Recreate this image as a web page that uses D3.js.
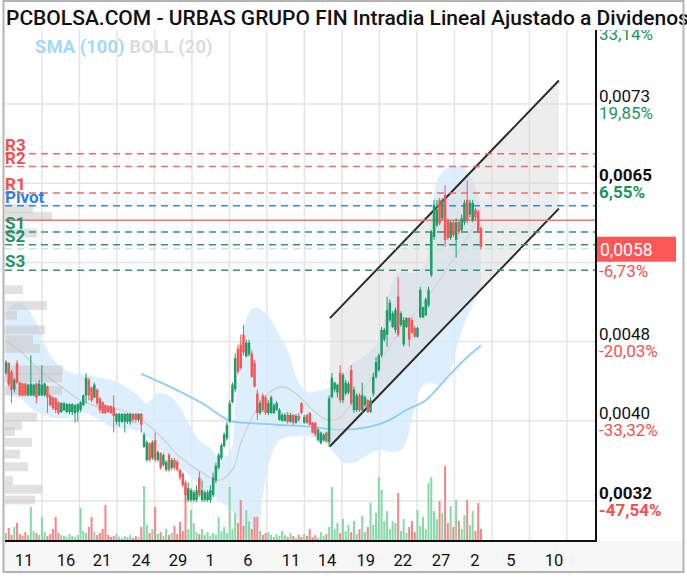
<!DOCTYPE html>
<html><head><meta charset="utf-8">
<script src="https://cdn.jsdelivr.net/npm/d3@7"></script>
<style>body{margin:0;background:#fff}svg{display:block}text{font-family:Roboto,"Noto Sans",sans-serif}</style>
</head><body><svg id="c" width="687" height="578"></svg>
<script>
// Prices are in units of 0.00001 EUR
const openP = [456,466,457,439,466,446,445,445,433,433,433,445,433,433,433,442,433,431,430,426,416,418,416,416,416,415,416,418,423,433,449,441,431,439,430,426,423,422,422,421,406,406,406,406,406,406,414,414,408,414,380,367,384,369,387,367,374,362,357,372,359,367,365,357,353,344,326,326,326,326,349,326,326,326,326,331,346,359,369,381,389,406,426,439,481,485,495,473,475,476,466,435,415,433,431,415,415,415,418,408,407,407,413,406,413,405,412,425,405,413,415,405,405,387,384,387,395,385,431,439,436,456,428,435,436,459,418,418,433,418,423,428,416,435,452,459,474,490,495,510,503,500,534,505,485,503,512,510,502,493,513,513,515,525,556,595,607,633,614,638,612,594,610,592,610,602,610,633,618,612,623,621,604];
const highP = [469,467,459,451,469,447,446,446,445,474,445,446,449,464,446,443,434,432,431,427,426,426,425,425,425,424,425,427,434,456,451,442,446,440,431,427,424,423,423,433,415,415,415,415,415,415,415,415,415,415,395,387,385,387,395,377,375,374,367,374,369,369,367,358,354,346,344,338,336,341,355,346,336,336,341,354,364,374,384,395,406,428,446,476,485,495,505,490,490,479,469,439,428,435,433,428,433,425,427,420,415,415,416,415,414,414,415,426,413,414,416,406,406,400,396,394,396,433,456,447,445,464,456,449,447,464,442,435,435,446,433,429,431,456,472,476,503,502,534,531,519,523,554,519,513,513,513,512,504,503,544,524,533,544,602,633,633,635,635,648,614,612,612,614,612,618,633,653,633,633,625,623,606];
const lowP = [454,442,425,436,444,432,432,432,432,432,432,425,432,432,432,415,422,418,415,413,415,417,415,414,413,405,406,416,422,425,428,426,430,423,415,414,414,415,414,395,403,401,405,395,404,403,405,405,406,395,380,365,365,367,365,365,357,360,355,355,357,357,355,346,339,324,324,324,324,324,329,324,324,324,323,329,343,357,367,380,387,405,425,436,454,459,474,472,473,451,441,408,413,416,413,413,414,414,417,407,406,406,404,405,403,404,406,414,404,404,402,394,391,386,383,386,385,380,430,436,431,425,425,433,434,423,415,416,416,415,421,415,415,432,450,457,472,488,483,508,502,497,493,503,483,502,483,496,492,492,512,512,514,523,554,592,605,607,612,585,592,592,595,574,598,600,607,609,615,610,612,599,582];
const closeP = [467,444,439,449,446,433,433,433,444,445,444,431,445,444,445,431,423,420,418,415,425,425,424,424,424,423,424,426,433,451,433,428,444,425,418,415,415,416,415,412,414,414,414,414,414,414,408,408,414,403,393,385,367,385,367,375,359,372,365,357,367,359,357,349,341,331,338,336,334,336,331,336,334,334,336,349,361,372,382,393,403,425,444,471,457,461,477,487,487,452,442,415,425,418,415,425,431,423,425,418,413,413,406,413,405,412,408,415,411,405,403,395,393,398,395,393,386,430,451,446,444,428,454,446,445,425,439,433,418,433,431,416,428,452,467,474,500,500,520,528,517,520,495,517,510,512,490,497,493,502,541,523,531,541,600,628,623,609,633,592,594,610,597,610,600,614,630,612,630,630,615,600,585];
const volume = [8,13,6,14,18,7,5,9,6,34,10,8,6,24,9,5,7,12,24,8,6,5,4,7,5,4,6,33,10,8,14,24,9,6,8,12,36,6,4,5,7,4,3,5,4,6,3,5,4,14,55,16,8,12,34,7,9,5,12,6,8,15,7,19,10,54,12,31,18,9,7,12,6,9,5,8,6,24,10,14,8,54,12,28,18,41,15,31,20,12,24,24,10,6,8,9,6,4,7,5,10,6,4,8,5,3,6,4,7,5,12,4,6,3,9,5,7,14,54,12,18,8,22,10,16,9,20,7,12,25,9,14,38,16,28,64,51,20,30,12,20,18,48,10,22,8,14,20,9,31,15,24,12,58,64,30,22,40,28,75,18,35,14,41,20,12,26,41,16,30,10,38,12];

// Bollinger (20): [bar index, price]
const bollUpper = [[0,520],[5,528],[11,508],[14,485],[18,467],[23,457],[29,454],[34,451],[40,447],[47,435],[51,425],[55,435],[59,433],[63,421],[66,405],[70,387],[74,379],[77,370],[81,374],[83,425],[85,462],[87,512],[90,523],[94,517],[98,500],[103,472],[105,452],[108,439],[110,436],[115,439],[121,446],[124,462],[130,474],[135,490],[139,541],[142,558],[149,559],[152,569],[154,623],[157,658],[161,667],[165,667],[169,653],[172,623]];
const bollLower = [[0,433],[5,430],[10,418],[16,411],[22,410],[28,415],[34,408],[38,401],[45,398],[49,395],[56,377],[63,360],[71,339],[77,326],[83,311],[87,286],[91,296],[93,331],[95,362],[99,387],[103,391],[110,391],[114,387],[118,377],[122,365],[126,364],[131,372],[135,377],[141,375],[144,380],[147,408],[150,439],[153,446],[157,444],[161,459],[164,490],[168,520],[172,541]];
const bollMid = [[0,488],[5,479],[12,459],[20,442],[27,428],[34,421],[42,418],[49,408],[56,391],[63,370],[71,354],[77,346],[82,357],[85,384],[90,415],[95,435],[100,442],[105,435],[110,421],[116,408],[121,410],[125,425],[132,449],[138,479],[145,507],[152,531],[160,564],[165,585],[170,609]];
const sma100 = [[49,455],[60,441],[71,425],[81,407],[87,405],[98,403],[110,401],[121,398],[132,401],[139,408],[145,418],[152,428],[160,452],[167,472],[172,484]];

// Regression channel: [start index, end index], upper/lower prices
const channelIdx = [117.3, 200.2];
const channelUpper = [512, 755];
const channelLower = [381, 624];

// Pivot levels
const pivotNames = ["R3","R2","R1","Pivot","S1","S2","S3"];
const pivotValues = [680,667,640,627,600,587,561];
const lastClose = 612;
const currentPrice = 583;
const currentPriceLabel = "0,0058";

// Volume at price profile: [price, volume]
const profile = [[624,28],[616,47],[599,32],[541,18],[525,42],[515,12],[500,40],[490,28],[481,35],[459,58],[451,57],[438,57],[411,32],[402,17],[396,10],[385,27],[373,15],[360,23],[346,8],[337,37],[326,30]];

// Axes
const yTickValues = [325,407,488,569,650,731,812];
const yTickLabels = ["0,0032","0,0040","0,0048","0,0056","0,0065","0,0073","0,0081"];
const yTickPct = ["-47,54%","-33,32%","-20,03%","-6,73%","6,55%","19,85%","33,14%"];
const yTickBold = [true,false,false,false,true,false,false];
const xTickIdx = [6.5,21.7,34.8,48.9,62.3,73.9,87.6,103.2,116.2,130.3,143.7,157.5,169.8,182.8,198.4];
const xTickLabels = ["11","16","21","24","29","1","6","11","14","19","22","27","2","5","10"];
const xGridIdx = d3.range(13.0, 215, 13.58);

const title = "PCBOLSA.COM - URBAS GRUPO FIN Intradia Lineal Ajustado a Dividenos";

const U = 1e-5;
const svg = d3.select("#c");
const L = 5, R = 596, T = 30, B = 541;
const x = d3.scaleLinear().domain([0,172]).range([6,481]);
const y = d3.scaleLinear().domain([325*U, 731*U]).range([501,104]);
const yv = d3.scaleLinear().domain([0,86]).range([B, 455]);
const prof = d3.scaleLinear().domain([0,100]).range([0,100]);

const GREEN = "#1f9d66", RED = "#f25757";

svg.append("rect").attr("x",0).attr("y",0).attr("width",687).attr("height",578).attr("fill","#fff");
svg.append("rect").attr("x",4).attr("y",B).attr("width",679).attr("height",31).attr("fill","#f7f7f7");

const defs = svg.append("defs");
defs.append("clipPath").attr("id","clip").append("rect")
  .attr("x",L).attr("y",T).attr("width",R-L).attr("height",B-T);
defs.append("clipPath").attr("id","clipR").append("rect").attr("x",597).attr("y",T).attr("width",90).attr("height",B-T);
const g = svg.append("g").attr("clip-path","url(#clip)");

// grid
g.selectAll(".vg").data(xGridIdx).join("line")
  .attr("x1",d=>x(d)).attr("x2",d=>x(d)).attr("y1",T).attr("y2",B)
  .attr("stroke","#e4e4e4").attr("stroke-width",1.5);
g.selectAll(".hg").data(yTickValues).join("line")
  .attr("x1",L).attr("x2",R).attr("y1",d=>y(d*U)).attr("y2",d=>y(d*U))
  .attr("stroke","#e4e4e4").attr("stroke-width",1.5);

// Bollinger band
const ln = d3.line().x(d=>x(d[0])).y(d=>y(d[1]*U)).curve(d3.curveCatmullRom);
g.append("path")
  .attr("d", ln(bollUpper) + "L" + ln(bollLower.slice().reverse()).slice(1) + "Z")
  .attr("fill","#d7ebfb").attr("opacity",0.85);
g.append("path").attr("d", ln(bollMid)).attr("fill","none").attr("stroke","#cfcfcf").attr("stroke-width",1.2);

// volume profile
g.selectAll(".vp").data(profile).join("rect")
  .attr("x",L).attr("y",d=>y((d[0]+4.5)*U)).attr("height",d=>y((d[0]-4.5)*U)-y((d[0]+4.5)*U))
  .attr("width",d=>prof(d[1])).attr("fill","#c4c4c4").attr("opacity",0.5);

// SMA 100
g.append("path").attr("d", ln(sma100)).attr("fill","none").attr("stroke","#8ecdf6").attr("stroke-width",1.8);

// channel
const cx0 = x(channelIdx[0]), cx1 = x(channelIdx[1]);
g.append("path")
  .attr("d",`M${cx0},${y(channelUpper[0]*U)}L${cx1},${y(channelUpper[1]*U)}L${cx1},${y(channelLower[1]*U)}L${cx0},${y(channelLower[0]*U)}Z`)
  .attr("fill","#dcdcdc").attr("opacity",0.5);
[channelUpper, channelLower].forEach(c=>{
  g.append("line").attr("x1",cx0).attr("x2",cx1).attr("y1",y(c[0]*U)).attr("y2",y(c[1]*U))
   .attr("stroke","#2b2b2b").attr("stroke-width",2);
});

// pivot lines
const pivColor = n => n[0]==="R" ? "#f26a6a" : (n==="Pivot" ? "#3b87e6" : "#2a9a6a");
const pivText = n => n[0]==="R" ? "#f25050" : (n==="Pivot" ? "#2f7fe0" : "#22935f");
g.selectAll(".pl").data(pivotValues).join("line")
  .attr("x1",L).attr("x2",R).attr("y1",d=>y(d*U)).attr("y2",d=>y(d*U))
  .attr("stroke",(d,i)=>pivColor(pivotNames[i])).attr("stroke-width",1.5).attr("stroke-dasharray","7,5");
g.append("line").attr("x1",L).attr("x2",R).attr("y1",y(currentPrice*U)).attr("y2",y(currentPrice*U))
  .attr("stroke","#cde6d6").attr("stroke-width",1.5).attr("stroke-dasharray","7,5");
g.append("line").attr("x1",L).attr("x2",R).attr("y1",y(lastClose*U)).attr("y2",y(lastClose*U))
  .attr("stroke","#f27272").attr("stroke-width",1.5);

// volume bars
const idx = d3.range(closeP.length);
g.selectAll(".vb").data(idx).join("rect")
  .attr("x",i=>x(i)-1).attr("width",2).attr("y",i=>yv(volume[i])).attr("height",i=>B-yv(volume[i]))
  .attr("fill",i=>closeP[i]>=openP[i]?"#86d8a8":"#f48787");

// candles
g.selectAll(".wk").data(idx).join("line")
  .attr("x1",i=>x(i)).attr("x2",i=>x(i)).attr("y1",i=>y(highP[i]*U)).attr("y2",i=>y(lowP[i]*U))
  .attr("stroke",i=>closeP[i]>=openP[i]?GREEN:RED).attr("stroke-width",1);
g.selectAll(".bd").data(idx).join("rect")
  .attr("x",i=>x(i)-1.25).attr("width",2.5)
  .attr("y",i=>y(Math.max(openP[i],closeP[i])*U))
  .attr("height",i=>Math.max(1.5, y(Math.min(openP[i],closeP[i])*U)-y(Math.max(openP[i],closeP[i])*U)))
  .attr("fill",i=>closeP[i]>=openP[i]?GREEN:RED);

// pivot labels
g.selectAll(".pt").data(pivotValues).join("text")
  .attr("x",5).attr("y",d=>y(d*U)-3).text((d,i)=>pivotNames[i])
  .attr("fill",(d,i)=>pivText(pivotNames[i])).attr("font-size",17).attr("font-weight",700);

// legend
const lg = svg.append("text").attr("x",35).attr("y",53).attr("font-size",18.5).attr("font-weight",700);
lg.append("tspan").text("SMA (100) ").attr("fill","#a8d8f8");
lg.append("tspan").text("BOLL (20)").attr("fill","#dcdcdc");

// axes lines
svg.append("line").attr("x1",R).attr("x2",R).attr("y1",T).attr("y2",B).attr("stroke","#111").attr("stroke-width",2);
svg.append("line").attr("x1",L).attr("x2",R+1).attr("y1",B).attr("y2",B).attr("stroke","#111").attr("stroke-width",2);

// right axis labels
const ra = svg.append("g").attr("clip-path","url(#clipR)");
yTickValues.forEach((v,i)=>{
  const yy = y(v*U);
  ra.append("text").attr("x",599).attr("y",yy-2).text(yTickLabels[i]).attr("font-size",17)
    .attr("fill","#111").attr("font-weight",yTickBold[i]?700:400);
  ra.append("text").attr("x",599).attr("y",yy+15).text(yTickPct[i]).attr("font-size",17)
    .attr("fill",yTickPct[i][0]==="-"?"#f25050":"#22935f").attr("font-weight",yTickBold[i]?700:400);
});
// price tag
const py = y(currentPrice*U);
svg.append("rect").attr("x",597).attr("y",py-12).attr("width",79).attr("height",25).attr("fill","#ff5757");
svg.append("text").attr("x",600).attr("y",py+7).text(currentPriceLabel).attr("fill","#fff").attr("font-size",17.5);

// x axis labels
svg.selectAll(".xl").data(xTickIdx).join("text")
  .attr("x",d=>x(d)).attr("y",566).attr("text-anchor","middle").attr("font-size",16.5).attr("fill","#111")
  .text((d,i)=>xTickLabels[i]);

// title
svg.append("text").attr("x",6).attr("y",25).text(title).attr("font-size",21).attr("font-weight",500).attr("fill","#111");

// frame
svg.append("rect").attr("x",3.5).attr("y",1).attr("width",680).attr("height",571)
  .attr("fill","none").attr("stroke","#b4b4b4").attr("stroke-width",2);
</script></body></html>
